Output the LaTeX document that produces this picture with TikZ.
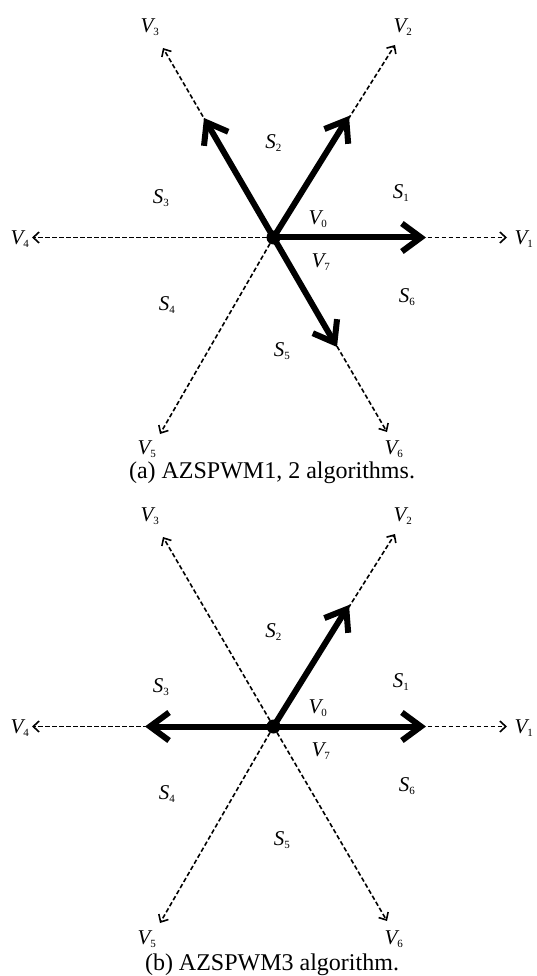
\documentclass[tikz,border=0pt]{standalone}
\usepackage{fontspec}
\setmainfont{Liberation Serif}
\usetikzlibrary{arrows.meta}
\newcommand{\vlab}[2]{{\itshape #1}\textsubscript{\upshape\fontsize{11}{11}\selectfont #2}}
\begin{document}
\begin{tikzpicture}[x=1pt,y=-1pt,
  dashedvec/.style={line width=1.6pt,dash pattern=on 4.5pt off 2.5pt,-{Straight Barb[length=6pt,width=11pt,line width=1.6pt]}},
  solidvec/.style={line width=6pt,-{Straight Barb[length=19pt,width=28pt,line width=6pt]}},
  lab/.style={font=\fontsize{21}{21}\selectfont,inner sep=0pt},
  captext/.style={font=\fontsize{24}{24}\selectfont,inner sep=0pt}]
\useasboundingbox (0,0) rectangle (536,976);
% ---------- (a) ----------
\begin{scope}
\coordinate (c) at (273.5,237.5);
\coordinate (d1) at (507,237.5);
\coordinate (d2) at (395,45);
\coordinate (d3) at (163,48);
\coordinate (d4) at (32,237.5);
\coordinate (d5) at (160,434);
\coordinate (d6) at (387,432);
\coordinate (s1) at (426,237.5);
\coordinate (s2) at (349,116);
\coordinate (s3) at (204,118);
\coordinate (s6) at (337,347);
\foreach \i in {1,...,6} \draw[dashedvec] (c) -- (d\i);
\foreach \i in {1,2,3,6} \draw[solidvec] (c) -- (s\i);
\fill (c) circle (7pt);
\node[lab] (aV1) at (524,239) {\vlab{V}{1}};
\node[lab] (aV2) at (403,27) {\vlab{V}{2}};
\node[lab] (aV3) at (150,27) {\vlab{V}{3}};
\node[lab] (aV4) at (20,239) {\vlab{V}{4}};
\node[lab] (aV5) at (147,449) {\vlab{V}{5}};
\node[lab] (aV6) at (394,449) {\vlab{V}{6}};
\node[lab] (aV0) at (318,219) {\vlab{V}{0}};
\node[lab] (aV7) at (321,262) {\vlab{V}{7}};
\node[lab] (aS1) at (401,193) {\vlab{S}{1}};
\node[lab] (aS2) at (273.5,143) {\vlab{S}{2}};
\node[lab] (aS3) at (161,198) {\vlab{S}{3}};
\node[lab] (aS4) at (167,305) {\vlab{S}{4}};
\node[lab] (aS5) at (282,351) {\vlab{S}{5}};
\node[lab] (aS6) at (407,297) {\vlab{S}{6}};
\node[captext] (capa) at (272,473) {(a) AZSPWM1, 2 algorithms.};
\end{scope}
% ---------- (b) ----------
\begin{scope}[yshift=-489pt]
\coordinate (c) at (273.5,237.5);
\coordinate (d1) at (507,237.5);
\coordinate (d2) at (395,45);
\coordinate (d3) at (163,48);
\coordinate (d4) at (32,237.5);
\coordinate (d5) at (160,434);
\coordinate (d6) at (387,432);
\coordinate (s1) at (426,237.5);
\coordinate (s2) at (349,116);
\coordinate (s4) at (145,237.5);
\foreach \i in {1,...,6} \draw[dashedvec] (c) -- (d\i);
\foreach \i in {1,2,4} \draw[solidvec] (c) -- (s\i);
\fill (c) circle (7pt);
\node[lab] (bV1) at (524,239) {\vlab{V}{1}};
\node[lab] (bV2) at (403,27) {\vlab{V}{2}};
\node[lab] (bV3) at (150,27) {\vlab{V}{3}};
\node[lab] (bV4) at (20,239) {\vlab{V}{4}};
\node[lab] (bV5) at (147,450) {\vlab{V}{5}};
\node[lab] (bV6) at (394,450) {\vlab{V}{6}};
\node[lab] (bV0) at (318,219) {\vlab{V}{0}};
\node[lab] (bV7) at (321,262) {\vlab{V}{7}};
\node[lab] (bS1) at (401,193) {\vlab{S}{1}};
\node[lab] (bS2) at (273.5,143) {\vlab{S}{2}};
\node[lab] (bS3) at (161,198) {\vlab{S}{3}};
\node[lab] (bS4) at (167,305) {\vlab{S}{4}};
\node[lab] (bS5) at (282,351) {\vlab{S}{5}};
\node[lab] (bS6) at (407,297) {\vlab{S}{6}};
\node[captext] (capb) at (272,476) {(b) AZSPWM3 algorithm.};
\end{scope}
\end{tikzpicture}
\end{document}
